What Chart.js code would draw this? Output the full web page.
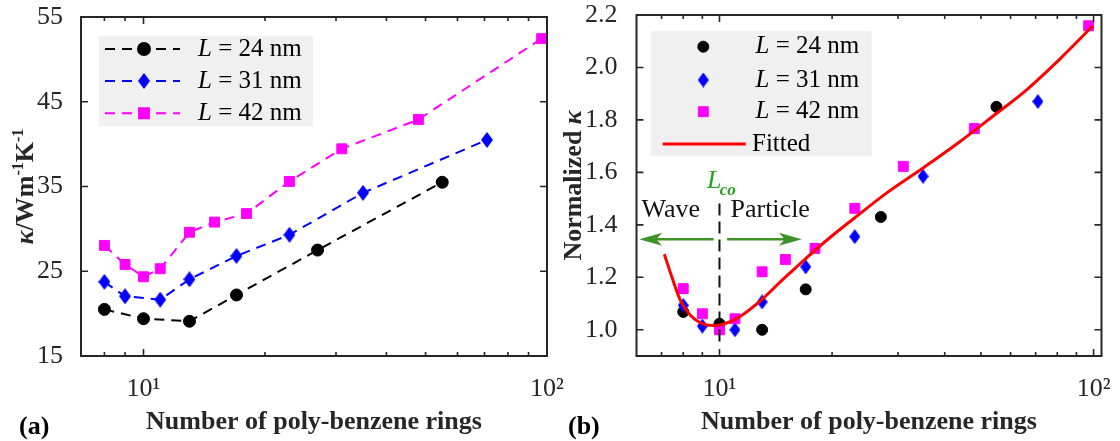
<!DOCTYPE html>
<html>
<head>
<meta charset="utf-8">
<script src="https://cdn.jsdelivr.net/npm/chart.js@4.4.0/dist/chart.umd.min.js"></script>
<style>
  body { margin: 0; background: #fff; width: 1120px; height: 441px; overflow: hidden; position: relative; }
  #chartA { position: absolute; left: 0; top: 0; }
  #chartB { position: absolute; left: 560px; top: 0; }
</style>
</head>
<body>
<canvas id="chartA" width="600" height="441"></canvas>
<canvas id="chartB" width="560" height="441"></canvas>
<script>
// ---- data ----
// (a) thermal conductivity vs number of rings
const ringsL24 = [8, 10, 13, 17, 27, 55];
const kappaL24 = [20.5, 19.4, 19.1, 22.2, 27.5, 35.5];
const ringsL31 = [8, 9, 11, 13, 17, 23, 35, 71];
const kappaL31 = [23.75, 22.05, 21.65, 24.05, 26.8, 29.3, 34.25, 40.5];
const ringsL42 = [8, 9, 10, 11, 13, 15, 18, 23, 31, 48, 97];
const kappaL42 = [28.05, 25.8, 24.35, 25.3, 29.6, 30.8, 31.8, 35.6, 39.45, 42.9, 52.45];

// (b) normalized kappa, same rings
const normL24 = [1.068, 1.023, 1.0, 1.154, 1.43, 1.85];
const normL31 = [1.093, 1.014, 1.0, 1.106, 1.24, 1.355, 1.585, 1.87];
const normL42 = [1.157, 1.061, 1.0, 1.042, 1.221, 1.268, 1.31, 1.463, 1.623, 1.767, 2.159];

// fitted curve
const fitRings = [7.12, 7.46, 7.86, 8.36, 8.98, 9.55, 10.16, 11.27, 13.0, 14.7, 16.8, 19.6, 22.9, 28.0, 35.0, 43.8, 53.8, 66.1, 81.1, 99.6];
const fitNorm  = [1.288, 1.201, 1.112, 1.055, 1.023, 1.016, 1.020, 1.048, 1.116, 1.189, 1.265, 1.348, 1.425, 1.522, 1.617, 1.716, 1.814, 1.914, 2.031, 2.159];

// crossover marker and arrows (data units)
const lcoRings = [10, 10];
const lcoNorm = [0.955, 1.483];
const waveArrow = [9.65, 6.1];
const particleArrow = [10.48, 16.6];
const arrowLevel = 1.345;

const legendLabels = ['24 nm', '31 nm', '42 nm'];
const ringTicks = [10, 100];
const ringTickLabels = ['10¹', '10²'];
const minorRingTicks = [6, 7, 8, 9, 20, 30, 40, 50, 60, 70, 80, 90];
const kappaTicks = [15, 25, 35, 45, 55];
const normTicks = [1.0, 1.2, 1.4, 1.6, 1.8, 2.0, 2.2];

const SERIF = "'Liberation Serif', 'Times New Roman', serif";
const INK = '#262626';
const GREEN = '#3f9228';

function pts(xs, ys) {
    return xs.map((x, i) => ({ x: x, y: ys[i] }));
}

function diamond(w, h, color) {
    const c = document.createElement('canvas');
    c.width = w; c.height = h;
    const g = c.getContext('2d');
    g.fillStyle = color;
    g.beginPath();
    g.moveTo(w / 2, 0); g.lineTo(w, h / 2); g.lineTo(w / 2, h); g.lineTo(0, h / 2);
    g.closePath();
    g.fill();
    return c;
}

// box frame + inward ticks, MATLAB style
const boxAxes = {
    id: 'boxAxes',
    afterDatasetsDraw(chart) {
        const { ctx, chartArea: a, scales: { x, y } } = chart;
        ctx.save();
        ctx.strokeStyle = INK;
        ctx.lineWidth = 1.6;
        ctx.beginPath();
        ringTicks.concat(minorRingTicks).forEach(v => {
            if (v <= x.min || v >= x.max) return;
            const px = x.getPixelForValue(v);
            const len = ringTicks.includes(v) ? 7 : 4;
            ctx.moveTo(px, a.bottom); ctx.lineTo(px, a.bottom - len);
            ctx.moveTo(px, a.top); ctx.lineTo(px, a.top + len);
        });
        y.ticks.forEach(t => {
            const py = y.getPixelForValue(t.value);
            ctx.moveTo(a.left, py); ctx.lineTo(a.left + 7, py);
            ctx.moveTo(a.right, py); ctx.lineTo(a.right - 7, py);
        });
        ctx.stroke();
        ctx.lineWidth = 2;
        ctx.strokeRect(a.left, a.top, a.right - a.left, a.bottom - a.top);
        ctx.restore();
    }
};

// draws runs of text with mixed fonts
function drawRuns(ctx, runs, x, y) {
    runs.forEach(r => {
        ctx.font = r.font;
        ctx.fillText(r.t, x, y - (r.rise || 0));
        x += ctx.measureText(r.t).width;
    });
    return x;
}
function runsWidth(ctx, runs) {
    let w = 0;
    runs.forEach(r => { ctx.font = r.font; w += ctx.measureText(r.t).width; });
    return w;
}

// rotated y title, panel letter
const sideTexts = {
    id: 'sideTexts',
    afterDraw(chart, args, opts) {
        const ctx = chart.ctx;
        ctx.save();
        ctx.fillStyle = INK;
        ctx.textBaseline = 'middle';
        ctx.translate(opts.titleX, (chart.chartArea.top + chart.chartArea.bottom) / 2);
        ctx.rotate(-Math.PI / 2);
        drawRuns(ctx, opts.title, -runsWidth(ctx, opts.title) / 2, 0);
        ctx.restore();

        ctx.save();
        ctx.fillStyle = '#000';
        ctx.textBaseline = 'alphabetic';
        ctx.font = 'bold 26px ' + SERIF;
        ctx.fillText(opts.letter, opts.letterX, 434);
        ctx.restore();
    }
};

// inset legend with a grey box
const insetLegend = {
    id: 'insetLegend',
    afterDraw(chart, args, opts) {
        const { ctx, chartArea: a } = chart;
        const H = Chart.helpers;
        ctx.save();
        ctx.fillStyle = '#f0f0f0';
        ctx.fillRect(a.left + opts.box[0], a.top + opts.box[1], opts.box[2], opts.box[3]);
        opts.rows.forEach(row => {
            const ds = chart.data.datasets[row.dataset];
            const yy = a.top + row.y;
            if (row.line) {
                ctx.strokeStyle = ds.borderColor;
                ctx.lineWidth = ds.borderWidth;
                ctx.setLineDash(ds.borderDash || []);
                ctx.beginPath();
                ctx.moveTo(a.left + opts.line[0], yy);
                ctx.lineTo(a.left + opts.line[1], yy);
                ctx.stroke();
                ctx.setLineDash([]);
            }
            if (row.marker) {
                ctx.fillStyle = ds.pointBackgroundColor;
                ctx.strokeStyle = ds.pointBorderColor;
                H.drawPoint(ctx, {
                    pointStyle: ds.pointStyle, radius: ds.pointRadius,
                    rotation: 0, borderWidth: ds.pointBorderWidth
                }, a.left + opts.markerX, yy);
            }
            ctx.fillStyle = '#000';
            ctx.textBaseline = 'middle';
            drawRuns(ctx, row.text, a.left + row.textX, yy);
        });
        ctx.restore();
    }
};

// wave / particle annotation in panel (b)
const crossover = {
    id: 'crossover',
    afterDatasetsDraw(chart) {
        const { ctx, scales: { x, y } } = chart;
        const py = y.getPixelForValue(arrowLevel);
        ctx.save();
        [waveArrow, particleArrow].forEach(ar => {
            const x0 = x.getPixelForValue(ar[0]);
            const x1 = x.getPixelForValue(ar[1]);
            const dir = Math.sign(x1 - x0);
            ctx.strokeStyle = GREEN;
            ctx.fillStyle = GREEN;
            ctx.lineWidth = 2.4;
            ctx.beginPath();
            ctx.moveTo(x0, py);
            ctx.lineTo(x1 - dir * 14, py);
            ctx.stroke();
            ctx.beginPath();
            ctx.moveTo(x1, py);
            ctx.lineTo(x1 - dir * 23, py - 6.5);
            ctx.lineTo(x1 - dir * 17, py);
            ctx.lineTo(x1 - dir * 23, py + 6.5);
            ctx.closePath();
            ctx.fill();
        });
        ctx.fillStyle = '#111';
        ctx.textBaseline = 'alphabetic';
        ctx.font = '26px ' + SERIF;
        ctx.fillText('Wave', x.getPixelForValue(6.19), y.getPixelForValue(1.431));
        ctx.fillText('Particle', x.getPixelForValue(10.7), y.getPixelForValue(1.431));
        ctx.fillStyle = '#22a322';
        ctx.font = 'italic 26px ' + SERIF;
        ctx.fillText('L', x.getPixelForValue(9.26), y.getPixelForValue(1.54));
        ctx.font = 'bold italic 17px ' + SERIF;
        ctx.fillText('co', x.getPixelForValue(10.02), y.getPixelForValue(1.514));
        ctx.restore();
    }
};

function ringScale(min, max) {
    return {
        type: 'logarithmic',
        min: min,
        max: max,
        grid: { display: false },
        border: { display: false },
        afterBuildTicks: s => { s.ticks = ringTicks.map(v => ({ value: v })); },
        afterFit: s => { s.height = 85; s.paddingLeft = 0; s.paddingRight = 0; },
        ticks: {
            color: INK,
            font: { family: SERIF, size: 26 },
            padding: 10,
            maxRotation: 0,
            autoSkip: false,
            callback: v => ringTickLabels[ringTicks.indexOf(v)]
        },
        title: {
            display: true,
            text: 'Number of poly-benzene rings',
            color: INK,
            font: { family: SERIF, size: 26, weight: 'bold' },
            padding: { top: 0, bottom: 3 }
        }
    };
}

function valueScale(min, max, ticks, width, digits, pad) {
    return {
        type: 'linear',
        min: min,
        max: max,
        grid: { display: false },
        border: { display: false },
        afterBuildTicks: s => { s.ticks = ticks.map(v => ({ value: v })); },
        afterFit: s => { s.width = width; s.paddingTop = 0; s.paddingBottom = 0; },
        ticks: {
            color: INK,
            font: { family: SERIF, size: 26 },
            padding: pad,
            callback: v => v.toFixed(digits)
        }
    };
}

const diamondA = diamond(12, 16, '#0000ff');
const diamondB = diamond(11, 15, '#0000ff');

function lineSet(label, xs, ys, color, style, radius, order) {
    return {
        label: label,
        data: pts(xs, ys),
        borderColor: color,
        borderWidth: 2,
        borderDash: [10, 7],
        pointStyle: style,
        pointRadius: radius,
        pointBackgroundColor: color,
        pointBorderColor: color,
        pointBorderWidth: 1,
        clip: false,
        order: order
    };
}

function dotSet(label, xs, ys, color, style, radius, order) {
    const d = lineSet(label, xs, ys, color, style, radius, order);
    d.showLine = false;
    return d;
}

const italicL = { t: 'L', font: 'italic 25px ' + SERIF };
function lengthRow(i, y, textX) {
    return { dataset: i, y: y, line: false, marker: true, textX: textX,
        text: [italicL, { t: ' = ' + legendLabels[i], font: '25px ' + SERIF }] };
}

// Panel (a)
const chartA = new Chart(document.getElementById('chartA').getContext('2d'), {
    type: 'line',
    data: {
        datasets: [
            lineSet('L = 24 nm', ringsL24, kappaL24, '#000000', 'circle', 6, 3),
            lineSet('L = 31 nm', ringsL31, kappaL31, '#0000ff', diamondA, 7, 2),
            lineSet('L = 42 nm', ringsL42, kappaL42, '#ff00ff', 'rect', 7, 1)
        ]
    },
    options: {
        responsive: false,
        animation: false,
        layout: { autoPadding: false, padding: { left: 0, right: 53, top: 17, bottom: 0 } },
        scales: {
            x: ringScale(7, 100),
            y: valueScale(15, 55, kappaTicks, 81, 0, 10)
        },
        plugins: {
            legend: { display: false },
            tooltip: { enabled: false },
            sideTexts: {
                titleX: 26,
                letter: '(a)', letterX: 19,
                title: [
                    { t: 'κ', font: 'bold italic 26px ' + SERIF },
                    { t: '/Wm', font: 'bold 26px ' + SERIF },
                    { t: '-1', font: 'bold 16px ' + SERIF, rise: 7 },
                    { t: 'K', font: 'bold 26px ' + SERIF },
                    { t: '-1', font: 'bold 16px ' + SERIF, rise: 7 }
                ]
            },
            insetLegend: {
                box: [18, 19, 214, 90],
                line: [24, 99],
                markerX: 63,
                rows: [0, 1, 2].map(i => {
                    const r = lengthRow(i, [32, 64, 96.3][i], 117);
                    r.line = true;
                    return r;
                })
            }
        }
    },
    plugins: [boxAxes, sideTexts, insetLegend]
});

// Panel (b)
const fitSet = {
    label: 'Fitted',
    data: pts(fitRings, fitNorm),
    borderColor: '#ff0000',
    borderWidth: 3,
    pointRadius: 0,
    cubicInterpolationMode: 'monotone',
    clip: false,
    order: 1
};
const lcoSet = {
    label: 'Lco',
    data: pts(lcoRings, lcoNorm),
    borderColor: '#111111',
    borderWidth: 2,
    borderDash: [12, 6],
    pointRadius: 0,
    clip: false,
    order: 0
};

const chartB = new Chart(document.getElementById('chartB').getContext('2d'), {
    type: 'line',
    data: {
        datasets: [
            dotSet('L = 24 nm', ringsL24, normL24, '#000000', 'circle', 5.5, 4),
            dotSet('L = 31 nm', ringsL31, normL31, '#0000ff', diamondB, 7, 3),
            dotSet('L = 42 nm', ringsL42, normL42, '#ff00ff', 'rect', 7, 2),
            fitSet,
            lcoSet
        ]
    },
    options: {
        responsive: false,
        animation: false,
        layout: { autoPadding: false, padding: { left: 0, right: 18.5, top: 15, bottom: 0 } },
        scales: {
            x: ringScale(6, 105),
            y: valueScale(0.9, 2.2, normTicks, 76.5, 1, 11)
        },
        plugins: {
            legend: { display: false },
            tooltip: { enabled: false },
            sideTexts: {
                titleX: 14,
                letter: '(b)', letterX: 8,
                title: [
                    { t: 'Normalized ', font: 'bold 26px ' + SERIF },
                    { t: 'κ', font: 'bold italic 26px ' + SERIF }
                ]
            },
            insetLegend: {
                box: [14.2, 16, 221, 125],
                line: [26.2, 109.2],
                markerX: 66.8,
                rows: [
                    lengthRow(0, 31.7, 119),
                    lengthRow(1, 65, 119),
                    lengthRow(2, 96.7, 119),
                    { dataset: 3, y: 129, line: true, marker: false, textX: 115.5,
                      text: [{ t: 'Fitted', font: '25px ' + SERIF }] }
                ]
            }
        }
    },
    plugins: [crossover, boxAxes, sideTexts, insetLegend]
});
</script>
</body>
</html>
